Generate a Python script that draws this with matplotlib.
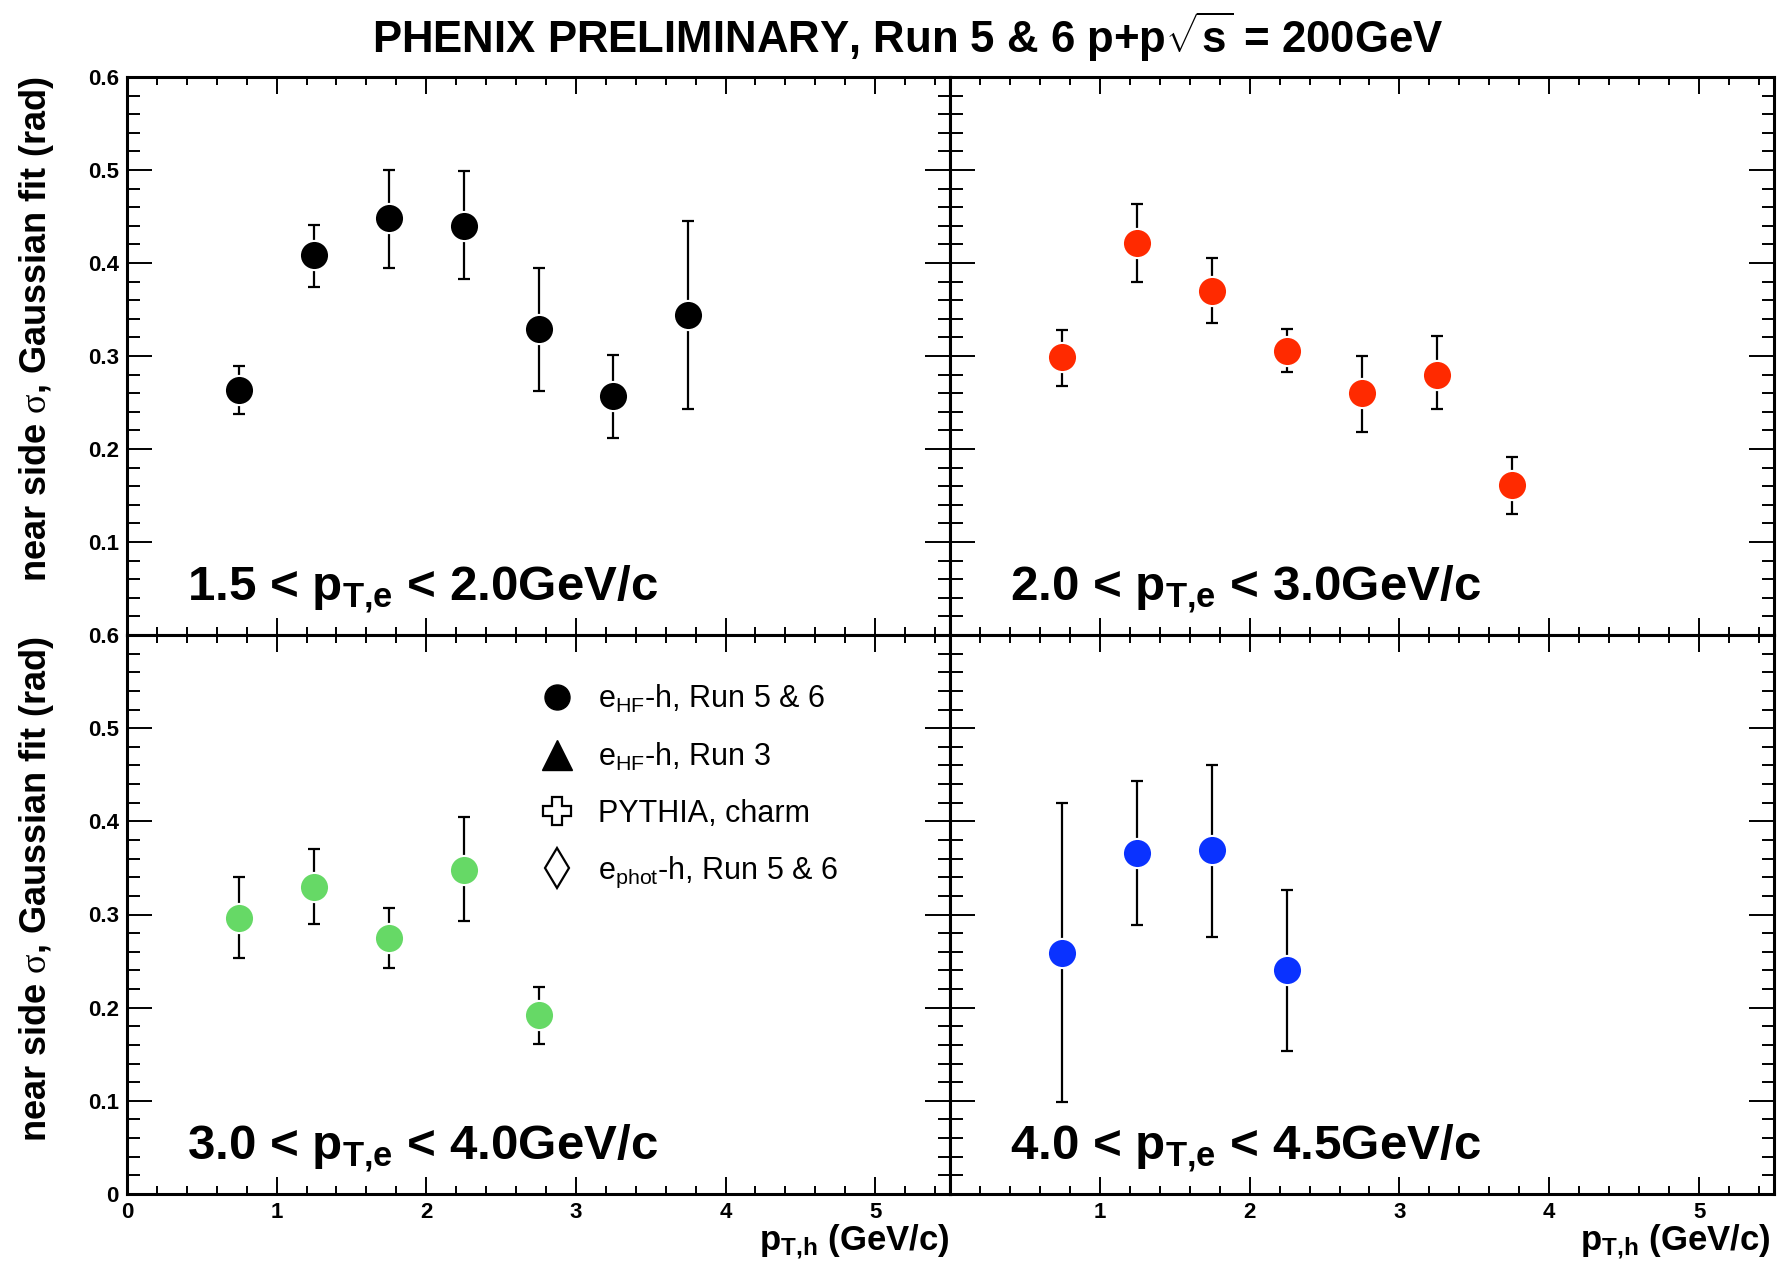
import numpy as np
import matplotlib
matplotlib.use("Agg")
import matplotlib.pyplot as plt
from matplotlib.ticker import MultipleLocator, FuncFormatter
from matplotlib.lines import Line2D

plt.rcParams['font.family'] = ['Liberation Sans', 'DejaVu Sans']
plt.rcParams['mathtext.fontset'] = 'custom'
plt.rcParams['mathtext.rm'] = 'Liberation Sans'
plt.rcParams['mathtext.bf'] = 'Liberation Sans:bold'
plt.rcParams['mathtext.it'] = 'Liberation Sans:italic'
plt.rcParams['mathtext.sf'] = 'Liberation Serif'

###################################
# data
###################################
pt_h = [0.75, 1.25, 1.75, 2.25, 2.75, 3.25, 3.75]

# 1.5 < pT,e < 2.0 GeV/c
sig_a = [0.263, 0.409, 0.448, 0.440, 0.329, 0.257, 0.344]
hi_a = [0.289, 0.441, 0.500, 0.499, 0.395, 0.301, 0.445]
lo_a = [0.238, 0.374, 0.395, 0.383, 0.262, 0.212, 0.243]

# 2.0 < pT,e < 3.0 GeV/c
sig_b = [0.299, 0.422, 0.370, 0.305, 0.260, 0.280, 0.161]
hi_b = [0.328, 0.463, 0.405, 0.329, 0.300, 0.321, 0.191]
lo_b = [0.268, 0.380, 0.335, 0.283, 0.218, 0.243, 0.130]

# 3.0 < pT,e < 4.0 GeV/c
sig_c = [0.296, 0.330, 0.275, 0.348, 0.192]
hi_c = [0.340, 0.370, 0.307, 0.405, 0.222]
lo_c = [0.253, 0.290, 0.243, 0.293, 0.161]

# 4.0 < pT,e < 4.5 GeV/c
sig_d = [0.259, 0.366, 0.369, 0.240]
hi_d = [0.420, 0.443, 0.461, 0.326]
lo_d = [0.099, 0.289, 0.276, 0.153]

bin_labels = [r'1.5 < p$_{\mathbf{T{,}e}}$ < 2.0GeV/c',
              r'2.0 < p$_{\mathbf{T{,}e}}$ < 3.0GeV/c',
              r'3.0 < p$_{\mathbf{T{,}e}}$ < 4.0GeV/c',
              r'4.0 < p$_{\mathbf{T{,}e}}$ < 4.5GeV/c']
colors = ['black', '#ff2a00', '#66d966', '#0a32ff']

legend_labels = [r'e$_{\rm HF}$-h, Run 5 & 6', r'e$_{\rm HF}$-h, Run 3',
                 'PYTHIA, charm', r'e$_{\rm phot}$-h, Run 5 & 6']

###################################
# figure and axes
###################################
W, H = 1780, 1278
fig = plt.figure(figsize=(W / 100, H / 100), dpi=100)


def box(x0, x1, ytop, ybot):
    return [x0 / W, 1 - ybot / H, (x1 - x0) / W, (ybot - ytop) / H]


ax_a = fig.add_axes(box(127, 950, 77, 635))
ax_b = fig.add_axes(box(950, 1774, 77, 635))
ax_c = fig.add_axes(box(127, 950, 635, 1194))
ax_d = fig.add_axes(box(950, 1774, 635, 1194))
axes = [ax_a, ax_b, ax_c, ax_d]

panels = [(sig_a, lo_a, hi_a), (sig_b, lo_b, hi_b),
          (sig_c, lo_c, hi_c), (sig_d, lo_d, hi_d)]

for k, ax in enumerate(axes):
    sig, lo, hi = panels[k]
    x = pt_h[:len(sig)]
    sig = np.array(sig)
    yerr = [sig - np.array(lo), np.array(hi) - sig]
    ax.errorbar(x, sig, yerr=yerr, fmt='none', ecolor='black',
                elinewidth=1.6, capsize=4.5, capthick=1.6, zorder=2)
    ax.plot(x, sig, 'o', ms=21, mfc=colors[k], mec='white', mew=1.5,
            zorder=3, linestyle='none')

    ax.set_xlim(0, 5.5)
    ax.set_ylim(0, 0.6)
    ax.xaxis.set_major_locator(MultipleLocator(1))
    ax.xaxis.set_minor_locator(MultipleLocator(0.2))
    ax.yaxis.set_major_locator(MultipleLocator(0.1))
    ax.yaxis.set_minor_locator(MultipleLocator(0.02))
    ax.tick_params(which='both', direction='in', top=True, right=True,
                   width=1.4, labelsize=16)
    ax.tick_params(axis='x', which='major', length=12, pad=6)
    ax.tick_params(axis='x', which='minor', length=6)
    ax.tick_params(axis='y', which='major', length=18, pad=6)
    ax.tick_params(axis='y', which='minor', length=9)
    for s in ax.spines.values():
        s.set_linewidth(2.2)

    ax.text(0.073, 0.062, bin_labels[k], transform=ax.transAxes,
            fontsize=35.5, fontweight='bold', va='baseline', ha='left')

# tick labels like the ROOT canvas
ax_a.tick_params(labelbottom=False)
ax_b.tick_params(labelbottom=False, labelleft=False)
ax_d.tick_params(labelleft=False)
ax_a.yaxis.set_major_formatter(FuncFormatter(lambda v, p: '' if v < 0.05 else f'{v:.1f}'))
ax_c.yaxis.set_major_formatter(FuncFormatter(lambda v, p: '0' if v < 0.05 else f'{v:.1f}'))
ax_c.xaxis.set_major_formatter(FuncFormatter(lambda v, p: f'{v:.0f}'))
ax_d.xaxis.set_major_formatter(FuncFormatter(lambda v, p: '' if v < 0.5 else f'{v:.0f}'))
for ax in axes:
    for t in ax.get_xticklabels() + ax.get_yticklabels():
        t.set_fontweight('bold')

# legend in the lower-left panel
handles = [Line2D([], [], ls='none', marker='o', ms=18, mfc='black', mec='black'),
           Line2D([], [], ls='none', marker='^', ms=21, mfc='black', mec='black'),
           Line2D([], [], ls='none', marker='P', ms=20, mfc='white', mec='black', mew=1.6),
           Line2D([], [], ls='none', marker='d', ms=20, mfc='white', mec='black', mew=1.6)]
ax_c.legend(handles, legend_labels, loc='upper left', bbox_to_anchor=(0.50, 0.915),
            frameon=False, fontsize=22, handlelength=1.2, handletextpad=0.75,
            labelspacing=0.85, borderpad=0, borderaxespad=0)

# axis titles and header
ylab = r'near side $\mathsf{\sigma}$, Gaussian fit (rad)'
fig.text(37 / W, 1 - 329 / H, ylab, rotation=90, ha='center', va='center',
         fontsize=26, fontweight='bold')
fig.text(37 / W, 1 - 889 / H, ylab, rotation=90, ha='center', va='center',
         fontsize=26, fontweight='bold')
xlab = r'p$_{\mathbf{T{,}h}}$ (GeV/c)'
fig.text(950 / W, 1 - 1250 / H, xlab, ha='right', va='baseline',
         fontsize=25, fontweight='bold')
fig.text(1771 / W, 1 - 1250 / H, xlab, ha='right', va='baseline',
         fontsize=25, fontweight='bold')
fig.text(908 / W, 1 - 37 / H,
         r'PHENIX PRELIMINARY, Run 5 & 6 p+p$\sqrt{\mathbf{s}}$ = 200GeV',
         ha='center', va='center', fontsize=31.5, fontweight='bold')

plt.savefig("out.png", dpi=100)
